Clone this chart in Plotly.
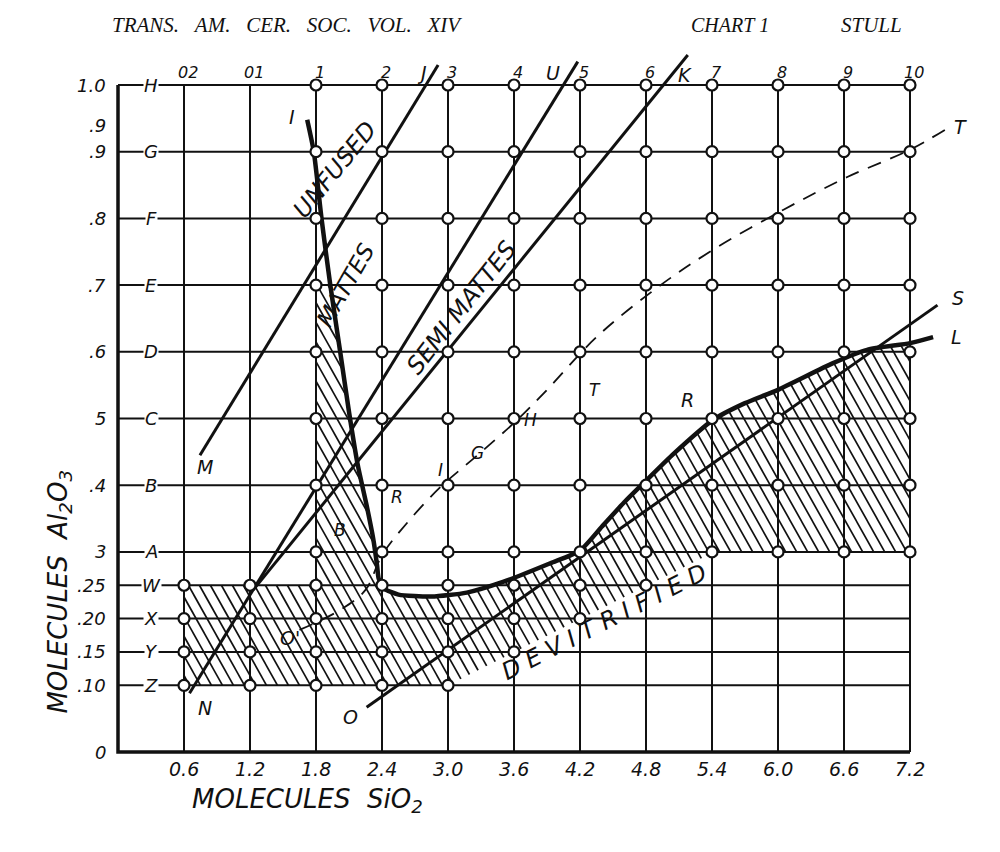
import plotly.graph_objects as go

# ---------------- data ----------------
x_ticks = [0.6, 1.2, 1.8, 2.4, 3.0, 3.6, 4.2, 4.8, 5.4, 6.0, 6.6, 7.2]
x_tick_text = ["0.6", "1.2", "1.8", "2.4", "3.0", "3.6", "4.2", "4.8", "5.4", "6.0", "6.6", "7.2"]
top_labels = ["02", "01", "1", "2", "3", "4", "5", "6", "7", "8", "9", "10"]
y_ticks = [0, 0.10, 0.15, 0.20, 0.25, 0.3, 0.4, 0.5, 0.6, 0.7, 0.8, 0.9, 1.0]
y_tick_text = ["0", ".10", ".15", ".20", ".25", "3", ".4", "5", ".6", ".7", ".8", ".9", "1.0"]
row_letter_y = [0.10, 0.15, 0.20, 0.25, 0.3, 0.4, 0.5, 0.6, 0.7, 0.8, 0.9, 1.0]
row_letters = ["Z", "Y", "X", "W", "A", "B", "C", "D", "E", "F", "G", "H"]

# open circles (compositions tested)
lower_rows = [0.10, 0.15, 0.20, 0.25]
lower_row_last_x = [3.0, 3.6, 4.2, 4.8]
upper_rows = [0.3, 0.4, 0.5, 0.6, 0.7, 0.8, 0.9, 1.0]
upper_cols = [1.8, 2.4, 3.0, 3.6, 4.2, 4.8, 5.4, 6.0, 6.6, 7.2]

# straight boundary lines
mj_x = [0.745, 2.91]
mj_y = [0.445, 1.03]
nu_x = [0.65, 4.18]
nu_y = [0.088, 1.035]
k_x = [1.23, 5.18]
k_y = [0.243, 1.045]
os_x = [2.26, 7.45]
os_y = [0.067, 0.67]

# heavy curve I ... L
il_x = [1.72, 1.78, 1.85, 1.93, 2.02, 2.10, 2.18, 2.26, 2.32, 2.355, 2.37,
        2.42, 2.55, 2.85, 3.17, 3.5, 3.93, 4.2, 4.4, 4.6, 4.82, 5.05, 5.41, 5.7,
        6.0, 6.5, 6.81, 7.2, 7.41]
il_y = [0.948, 0.90, 0.80, 0.70, 0.60, 0.51, 0.43, 0.37, 0.32, 0.28, 0.26,
        0.245, 0.236, 0.233, 0.239, 0.255, 0.283, 0.302, 0.338, 0.374, 0.41,
        0.447, 0.498, 0.523, 0.543, 0.583, 0.603, 0.613, 0.622]

# dashed curve O' ... T
ot_x = [1.65, 2.02, 2.25, 2.40, 2.61, 2.93, 3.29, 3.63, 3.90, 4.35, 4.90,
        5.41, 6.05, 6.63, 7.2, 7.52]
ot_y = [0.183, 0.213, 0.243, 0.295, 0.34, 0.397, 0.448, 0.498, 0.543, 0.622,
        0.696, 0.753, 0.813, 0.862, 0.903, 0.933]

# hatched (devitrified) region: lower/outer boundary, closed by the I-L curve
hatch_bx = [1.8, 1.8, 0.6, 0.6, 3.0, 5.3, 5.4, 7.2]
hatch_by = [0.70, 0.25, 0.25, 0.10, 0.10, 0.29, 0.30, 0.30]

# ---------------- figure ----------------
fig = go.Figure()
INK = "#111111"
HAND = "DejaVu Sans"
NB = "\u00a0"

# grid
gx, gy = [], []
for xv in x_ticks:
    gx += [xv, xv, None]
    gy += [0, 1.0, None]
for yv in y_ticks[1:]:
    gx += [0, 7.2, None]
    gy += [yv, yv, None]
fig.add_trace(go.Scatter(x=gx, y=gy, mode="lines", line=dict(color=INK, width=2),
                         hoverinfo="skip", showlegend=False))
# heavy frame (left and bottom)
fig.add_trace(go.Scatter(x=[0, 0, 7.2], y=[1.0, 0, 0], mode="lines",
                         line=dict(color=INK, width=3.5), showlegend=False, hoverinfo="skip"))

# hatched region: polygon, then hatch strokes clipped to it
top_pts = [(x, y) for x, y in zip(il_x, il_y) if 1.93 <= x <= 7.2][::-1]
poly = list(zip(hatch_bx, hatch_by)) + top_pts
poly.append(poly[0])
SLOPE = 3.4      # hatch direction: x grows 3.4 units per unit drop in y (steep, like the drawing)
STEP = 0.1       # spacing of hatch strokes along x
cvals = [px + SLOPE * py for px, py in poly]
c = min(cvals) + STEP / 2
sx, sy = [], []
while c < max(cvals):
    hits = []
    for (x1, y1), (x2, y2) in zip(poly[:-1], poly[1:]):
        f1 = x1 + SLOPE * y1 - c
        f2 = x2 + SLOPE * y2 - c
        if (f1 < 0) != (f2 < 0):
            t = f1 / (f1 - f2)
            hits.append((x1 + t * (x2 - x1), y1 + t * (y2 - y1)))
    hits.sort(key=lambda p: p[1])
    for a, b in zip(hits[0::2], hits[1::2]):
        sx += [a[0], b[0], None]
        sy += [a[1], b[1], None]
    c += STEP
fig.add_trace(go.Scatter(x=sx, y=sy, mode="lines", line=dict(color=INK, width=1.7),
                         showlegend=False, hoverinfo="skip"))

# straight lines
for lx, ly in [(mj_x, mj_y), (nu_x, nu_y), (k_x, k_y), (os_x, os_y)]:
    fig.add_trace(go.Scatter(x=lx, y=ly, mode="lines", line=dict(color=INK, width=3),
                             showlegend=False, hoverinfo="skip"))

# dashed curve
fig.add_trace(go.Scatter(x=ot_x, y=ot_y, mode="lines",
                         line=dict(color=INK, width=1.8, dash="14px,10px", shape="spline"),
                         showlegend=False, hoverinfo="skip"))

# heavy I-L curve
fig.add_trace(go.Scatter(x=il_x, y=il_y, mode="lines",
                         line=dict(color=INK, width=4.5, shape="spline", smoothing=0.6),
                         showlegend=False, hoverinfo="skip"))

# circles
cx, cy = [], []
for yv, xmax in zip(lower_rows, lower_row_last_x):
    for xv in x_ticks:
        if xv <= xmax + 1e-9:
            cx.append(xv)
            cy.append(yv)
for yv in upper_rows:
    for xv in upper_cols:
        cx.append(xv)
        cy.append(yv)
fig.add_trace(go.Scatter(x=cx, y=cy, mode="markers",
                         marker=dict(symbol="circle", size=11, color="white",
                                     line=dict(color=INK, width=2.2)),
                         showlegend=False, hoverinfo="skip"))

ann = []
def label(x, y, text, size=18, angle=0, xanchor="center", bg=None, family=HAND,
          style="italic", weight="normal"):
    d = dict(x=x, y=y, xref="x", yref="y", text=text, showarrow=False,
             xanchor=xanchor, yanchor="middle", textangle=angle,
             font=dict(family=family, size=size, color=INK, style=style, weight=weight))
    if bg:
        d["bgcolor"] = bg
        d["borderpad"] = 0
    ann.append(d)

# tick labels
for xv, t in zip(x_ticks, x_tick_text):
    label(xv, -0.025, t, size=19)
for xv, t in zip(x_ticks, top_labels):
    label(xv + 0.04, 1.018, t, size=16)
for yv, t in zip(y_ticks, y_tick_text):
    label(-0.09, yv, t, size=18, xanchor="right")
label(-0.09, 0.94, ".9", size=18, xanchor="right")
for yv, t in zip(row_letter_y, row_letters):
    label(0.30, yv, t, size=18, bg="white")

# line labels
for x, y, t in [(1.58, 0.952, "I"), (2.76, 1.018, "J"), (3.95, 1.018, "U"), (5.15, 1.015, "K"),
                (7.66, 0.937, "T"), (7.64, 0.680, "S"), (7.62, 0.622, "L"),
                (0.79, 0.427, "M"), (0.79, 0.066, "N"), (2.11, 0.052, "O"),
                (1.56, 0.171, "O'"), (5.18, 0.528, "R")]:
    label(x, y, t, size=19)
for x, y, t in [(2.02, 0.333, "B"), (2.54, 0.382, "R"), (2.93, 0.423, "I"),
                (3.27, 0.448, "G"), (3.75, 0.498, "H"), (4.34, 0.543, "T")]:
    label(x, y, t, size=17)

# region texts
label(1.97, 0.873, "UNFUSED", size=24, angle=-51)
label(2.07, 0.700, "MATTES", size=23, angle=-60)
label(3.12, 0.666, "SEMI MATTES", size=24, angle=-52)
label(4.42, 0.195, " ".join("DEVITRIFIED"), size=24, angle=-27)

# axis titles
label(-0.53, 0.24, "MOLECULES" + NB + NB + "Al<sub>2</sub>O<sub>3</sub>", size=26, angle=-90)
label(1.72, -0.072, "MOLECULES" + NB + NB + "SiO<sub>2</sub>", size=26)

# header
label(-0.07, 1.09, (NB * 3).join(["TRANS.", "AM.", "CER.", "SOC.", "VOL.", "XIV"]),
      size=21, xanchor="left", family="Liberation Serif")
label(5.56, 1.09, "CHART" + NB + "1", size=20, family="Liberation Serif")
label(6.85, 1.09, "STULL", size=21, family="Liberation Serif")

# plot area covers the whole page; the page body adds an 8px offset
fig.update_layout(
    width=1000, height=852, autosize=False,
    margin=dict(l=0, r=0, t=0, b=0, pad=0),
    paper_bgcolor="white", plot_bgcolor="white",
    xaxis=dict(range=[-1.0, 8.0909], visible=False),
    yaxis=dict(range=[-0.16192, 1.11544], visible=False),
    annotations=ann,
    showlegend=False,
)
fig.write_html("out.html")
